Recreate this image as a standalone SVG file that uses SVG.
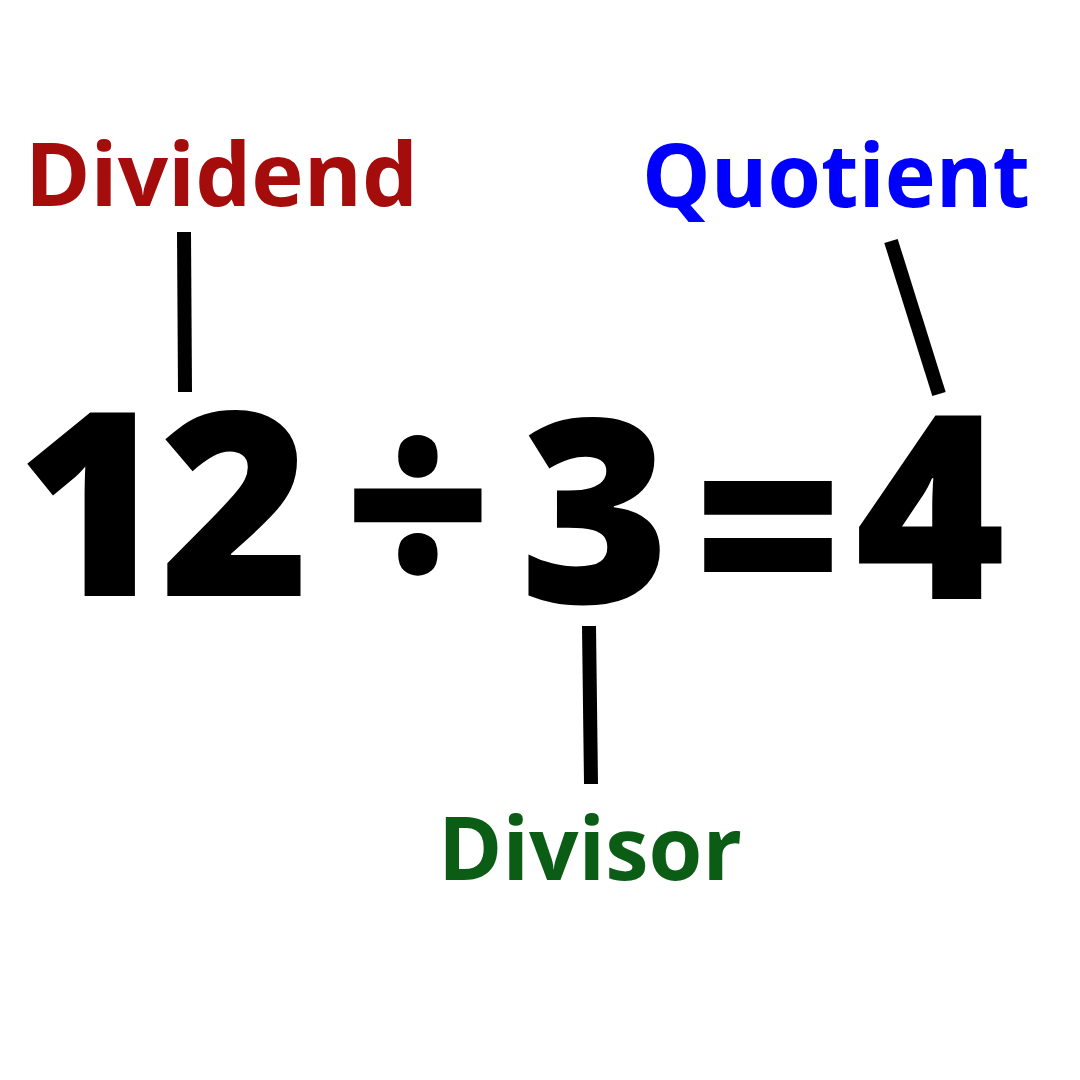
<svg xmlns="http://www.w3.org/2000/svg" width="1080" height="1080" viewBox="0 0 1080 1080">
<style>
.lbl{font-family:"Open Sans","Liberation Sans",sans-serif;font-weight:700;font-size:87px}
.num{font-family:"Open Sans","Liberation Sans",sans-serif;font-weight:800;font-size:257px;fill:#000;text-anchor:middle}
.conn{stroke:#000;stroke-width:14;fill:none}
</style>
<rect width="1080" height="1080" fill="#fff"/>
<g id="equation">
<text class="num" x="92" y="596">1</text>
<text class="num" x="235" y="596">2</text>
<text class="num" x="418" y="596">÷</text>
<text class="num" x="595" y="603">3</text>
<text class="num" x="768" y="617">=</text>
<text class="num" x="930" y="599">4</text>
</g>
<g id="dividend"><text class="lbl" x="25" y="206" fill="#a50c0c" textLength="393" lengthAdjust="spacingAndGlyphs">Dividend</text></g>
<g id="quotient"><text class="lbl" x="642" y="207" fill="#0000ff" textLength="388" lengthAdjust="spacingAndGlyphs">Quotient</text></g>
<g id="divisor"><text class="lbl" x="438" y="880" fill="#0b5c14" textLength="304" lengthAdjust="spacingAndGlyphs">Divisor</text></g>
<g id="connectors">
<line class="conn" x1="184" y1="232" x2="185" y2="392"/>
<line class="conn" x1="891" y1="241" x2="939" y2="394"/>
<line class="conn" x1="589" y1="626" x2="591" y2="784"/>
</g>
</svg>
